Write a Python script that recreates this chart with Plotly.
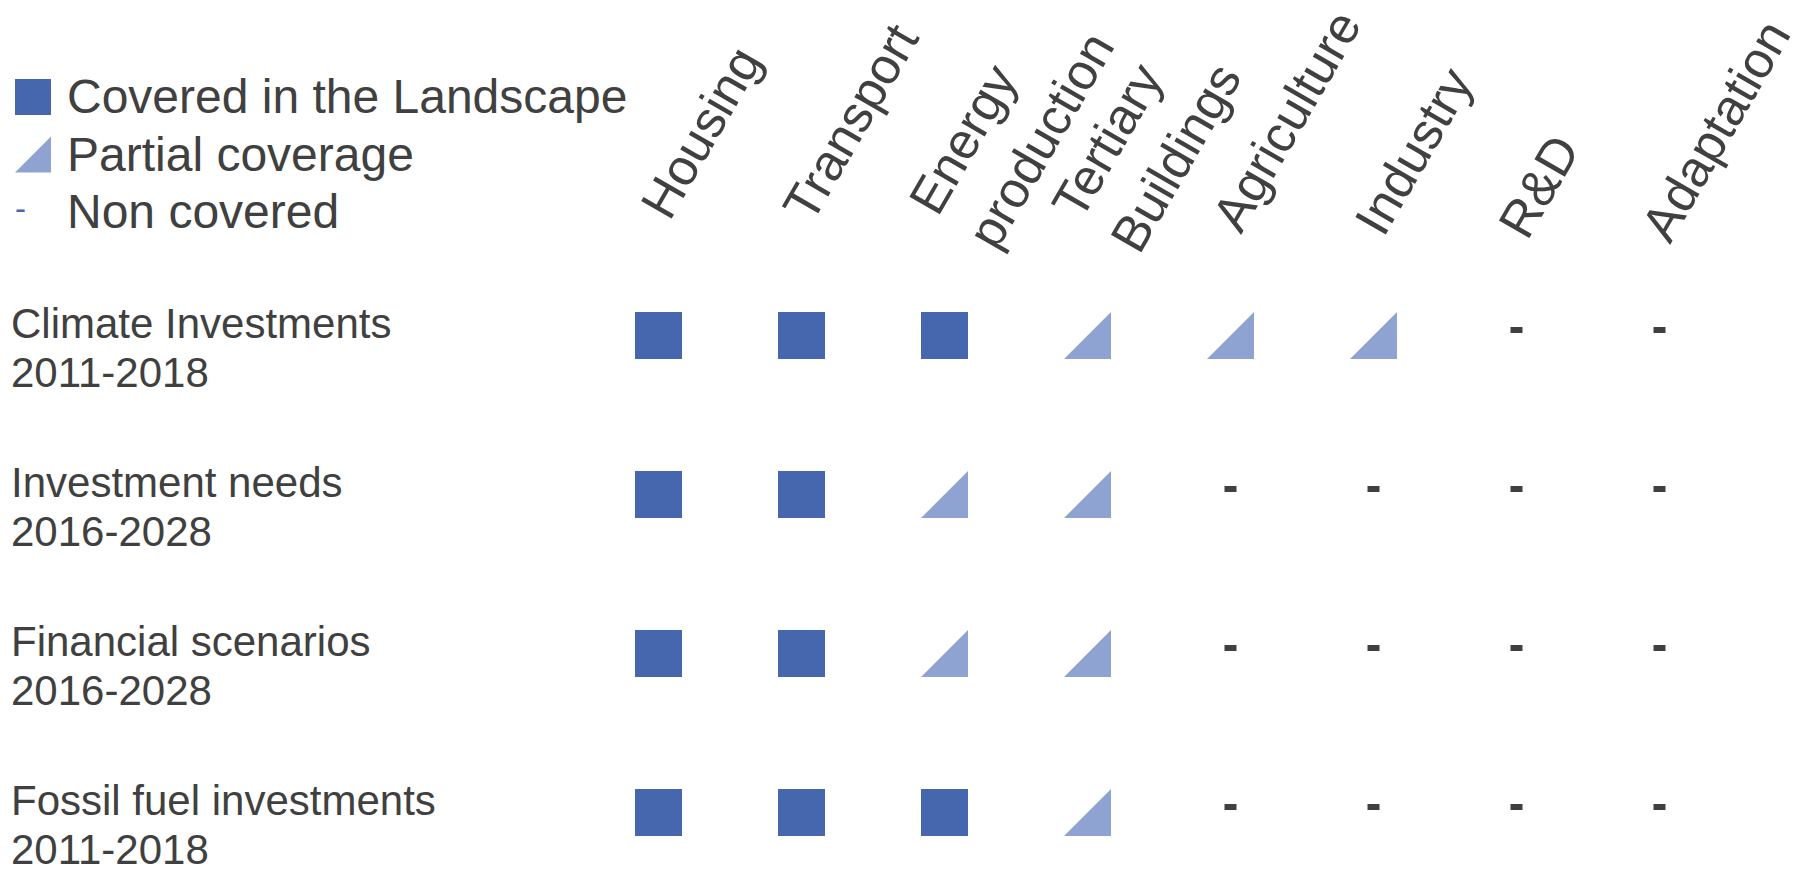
import math
import plotly.graph_objects as go

# ---------------- data ----------------
columns = ["Housing", "Transport", "Energy\nproduction", "Tertiary\nBuildings",
           "Agriculture", "Industry", "R&D", "Adaptation"]
row_titles = ["Climate Investments", "Investment needs",
              "Financial scenarios", "Fossil fuel investments"]
row_periods = ["2011-2018", "2016-2028", "2016-2028", "2011-2018"]
coverage = [
    ["full", "full", "full", "partial", "partial", "partial", "none", "none"],
    ["full", "full", "partial", "partial", "none", "none", "none", "none"],
    ["full", "full", "partial", "partial", "none", "none", "none", "none"],
    ["full", "full", "full", "partial", "none", "none", "none", "none"],
]
legend_labels = ["Covered in the Landscape", "Partial coverage", "Non covered"]
legend_kinds = ["full", "partial", "none"]

# ---------------- style / layout ----------------
W, H = 1806, 873
BLUE = "#4666ae"
LIGHT = "#8fa3d3"
GREY = "#404040"
FONT = "Liberation Sans, Arial, sans-serif"

COL0, COLSTEP = 658.5, 143.0     # px centre of first column, column pitch
ROW0, ROWSTEP = 335.5, 159.0     # px centre of first row, row pitch
ncol, nrow = len(columns), len(row_titles)

x_dom = [(COL0 - 0.5 * COLSTEP) / W, (COL0 + (ncol - 0.5) * COLSTEP) / W]
Y_LO, Y_HI = -0.5, 3.35
y_dom = [1 - (ROW0 + Y_HI * ROWSTEP) / H, 1 - (ROW0 + Y_LO * ROWSTEP) / H]

SQ = 47                      # square side px
TRI_D = SQ / 0.9             # plotly triangle-se marker size giving 47px legs
TRI_OFF = 0.15 * TRI_D       # px offset to centre the right triangle
DASH_RAISE = 5.5             # px

# legend axes
LEG_X0, LEG_SIZE = 15, 36
LEG_Y0, LEG_STEP = 97, 57.5
lx_dom = [LEG_X0 / W, (LEG_X0 + LEG_SIZE) / W]
ly_dom = [1 - (LEG_Y0 + 2.5 * LEG_STEP) / H, 1 - (LEG_Y0 - 0.5 * LEG_STEP) / H]

fig = go.Figure()

fx, fy, px_, py_, nx, ny = [], [], [], [], [], []
for r, row in enumerate(coverage):
    for c, kind in enumerate(row):
        if kind == "full":
            fx.append(c); fy.append(r)
        elif kind == "partial":
            px_.append(c + TRI_OFF / COLSTEP); py_.append(r + TRI_OFF / ROWSTEP)
        else:
            nx.append(c); ny.append(r - DASH_RAISE / ROWSTEP)

fig.add_trace(go.Scatter(x=fx, y=fy, mode="markers", hoverinfo="skip",
                         marker=dict(symbol="square", size=SQ, color=BLUE, line=dict(width=0))))
fig.add_trace(go.Scatter(x=px_, y=py_, mode="markers", hoverinfo="skip",
                         marker=dict(symbol="triangle-se", size=TRI_D, color=LIGHT, line=dict(width=0))))
fig.add_trace(go.Scatter(x=nx, y=ny, mode="markers", hoverinfo="skip",
                         marker=dict(symbol="line-ew", size=12 / 1.4, color=GREY,
                                     line=dict(width=6, color=GREY))))

# legend icons
LT_D = LEG_SIZE / 0.9
fig.add_trace(go.Scatter(x=[0.5], y=[legend_kinds.index("full")], xaxis="x2", yaxis="y2",
                         mode="markers", hoverinfo="skip",
                         marker=dict(symbol="square", size=LEG_SIZE, color=BLUE, line=dict(width=0))))
fig.add_trace(go.Scatter(x=[0.5 + 0.15 * LT_D / LEG_SIZE],
                         y=[legend_kinds.index("partial") + 0.15 * LT_D / LEG_STEP],
                         xaxis="x2", yaxis="y2", mode="markers", hoverinfo="skip",
                         marker=dict(symbol="triangle-se", size=LT_D, color=LIGHT, line=dict(width=0))))
fig.add_trace(go.Scatter(x=[0], y=[legend_kinds.index("none")], xaxis="x2", yaxis="y2",
                         mode="text", text=["-"], textposition="middle right", hoverinfo="skip",
                         textfont=dict(family=FONT, size=33, color=BLUE)))

annotations = []
# legend labels
for i, lab in enumerate(legend_labels):
    annotations.append(dict(text=lab, xref="paper", x=66 / W, xanchor="left",
                            yref="y2", y=i, yanchor="middle", showarrow=False, borderpad=0,
                            font=dict(family=FONT, size=48, color=GREY)))
# row labels
for r, (t, p) in enumerate(zip(row_titles, row_periods)):
    for txt, ys in ((t, 12), (p, -37)):
        annotations.append(dict(text=txt, xref="paper", x=10 / W, xanchor="left",
                                yref="y", y=r, yanchor="middle", yshift=ys, showarrow=False,
                                borderpad=0,
                                font=dict(family=FONT, size=42, color=GREY)))
# column headers (rotated)
THETA = 60
LINE_S = 68
HDR_BOTTOM0, HDR_SLOPE = 230.0, 3.34   # px, bottom of header boxes (drifts slightly per column)
sin_t, cos_t = math.sin(math.radians(THETA)), math.cos(math.radians(THETA))
for c, lab in enumerate(columns):
    lines = lab.split("\n")
    n = len(lines)
    for j, ln in enumerate(lines):
        off = (j - 0.3 * (n - 1)) * LINE_S
        annotations.append(dict(text=ln, xref="x", x=c, xanchor="left",
                                xshift=-32 + off * sin_t,
                                yref="paper", y=1 - (HDR_BOTTOM0 + HDR_SLOPE * c) / H,
                                yanchor="bottom",
                                yshift=-off * cos_t, textangle=-THETA, showarrow=False,
                                font=dict(family=FONT, size=51, color=GREY)))

ax_hidden = dict(visible=False, showgrid=False, zeroline=False, fixedrange=True)
fig.update_layout(
    width=W, height=H, margin=dict(l=0, r=0, t=0, b=0, pad=0),
    paper_bgcolor="white", plot_bgcolor="white", showlegend=False, hovermode=False,
    xaxis=dict(ax_hidden, range=[-0.5, ncol - 0.5], domain=x_dom),
    yaxis=dict(ax_hidden, range=[Y_HI, Y_LO], domain=y_dom),
    xaxis2=dict(ax_hidden, range=[0, 1], domain=lx_dom, anchor="y2"),
    yaxis2=dict(ax_hidden, range=[2.5, -0.5], domain=ly_dom, anchor="x2"),
    annotations=annotations,
)
fig.write_html("out.html", config={"displayModeBar": False})
